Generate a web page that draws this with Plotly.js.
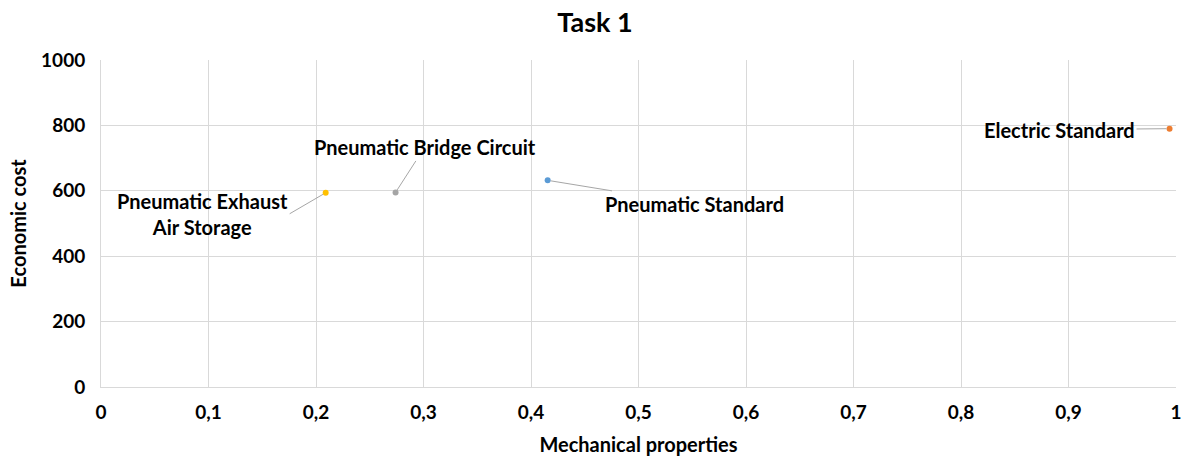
<!DOCTYPE html>
<html>
<head>
<meta charset="utf-8">
<script src="https://cdn.plot.ly/plotly-3.0.1.min.js"></script>
<style>html,body{margin:0;padding:0;background:#fff;}#chart{width:1190px;height:461px;}</style>
</head>
<body>
<div id="chart"></div>
<script>
const names = ["Pneumatic Exhaust<br>Air Storage", "Pneumatic Bridge Circuit", "Pneumatic Standard", "Electric Standard"];
const mechanical = [0.209, 0.274, 0.4155, 0.994];
const cost = [594, 595, 632, 790];
const colors = ["#FFC000", "#A5A5A5", "#5B9BD5", "#ED7D31"];
const xTicks = [0, 0.1, 0.2, 0.3, 0.4, 0.5, 0.6, 0.7, 0.8, 0.9, 1];
const yTicks = [0, 200, 400, 600, 800, 1000];

// label placement (pixel offsets of the leader-line tail, text anchor)
const offsets = [[-36, 21], [29, -45], [147, 24], [-110, 1]];
const anchors = ["right", "auto", "auto", "auto"];

const FONT = "Lato, 'Open Sans', sans-serif";

const traces = names.map((n, i) => ({
  type: "scatter",
  mode: "markers",
  x: [mechanical[i]],
  y: [cost[i]],
  name: n,
  marker: {color: colors[i], size: 6},
  hoverinfo: "x+y+name"
}));

const annotations = names.map((n, i) => ({
  x: mechanical[i], y: cost[i], xref: "x", yref: "y",
  text: "<b>" + n + "</b>",
  showarrow: true, arrowhead: 0, arrowwidth: 1, arrowcolor: "#A6A6A6",
  ax: offsets[i][0], ay: offsets[i][1],
  xanchor: anchors[i], yanchor: anchors[i] === "right" ? "middle" : "auto",
  font: {family: FONT, size: 20, color: "#000"},
  align: "center", standoff: 3
}));

const layout = {
  width: 1190, height: 461,
  separators: ",.",
  paper_bgcolor: "#fff", plot_bgcolor: "#fff",
  margin: {l: 101, r: 14, t: 60, b: 74},
  showlegend: false,
  title: {text: "<b>Task 1</b>", x: 0.5, xanchor: "center", y: 0.952, yanchor: "middle",
          font: {family: FONT, size: 27, color: "#000"}},
  xaxis: {
    range: [0, 1], tickvals: xTicks, ticktext: xTicks.map(v => String(v).replace(".", ",")),
    showgrid: true, gridcolor: "#D9D9D9", gridwidth: 1,
    showline: true, linecolor: "#D9D9D9", zeroline: false, ticks: "",
    tickfont: {family: FONT, size: 19, color: "#000", weight: "bold"},
    ticklabelstandoff: 8,
    title: {text: "<b>Mechanical properties</b>", font: {family: FONT, size: 20, color: "#000"}, standoff: 16}
  },
  yaxis: {
    range: [0, 1000], tickvals: yTicks,
    showgrid: true, gridcolor: "#D9D9D9", gridwidth: 1,
    showline: true, linecolor: "#D9D9D9", zeroline: false, ticks: "",
    tickfont: {family: FONT, size: 19, color: "#000", weight: "bold"},
    ticklabelstandoff: 11,
    title: {text: "<b>Economic cost</b>", font: {family: FONT, size: 20, color: "#000"}, standoff: 9}
  },
  annotations: annotations
};

Plotly.newPlot("chart", traces, layout, {displayModeBar: false, staticPlot: true});
</script>
</body>
</html>
